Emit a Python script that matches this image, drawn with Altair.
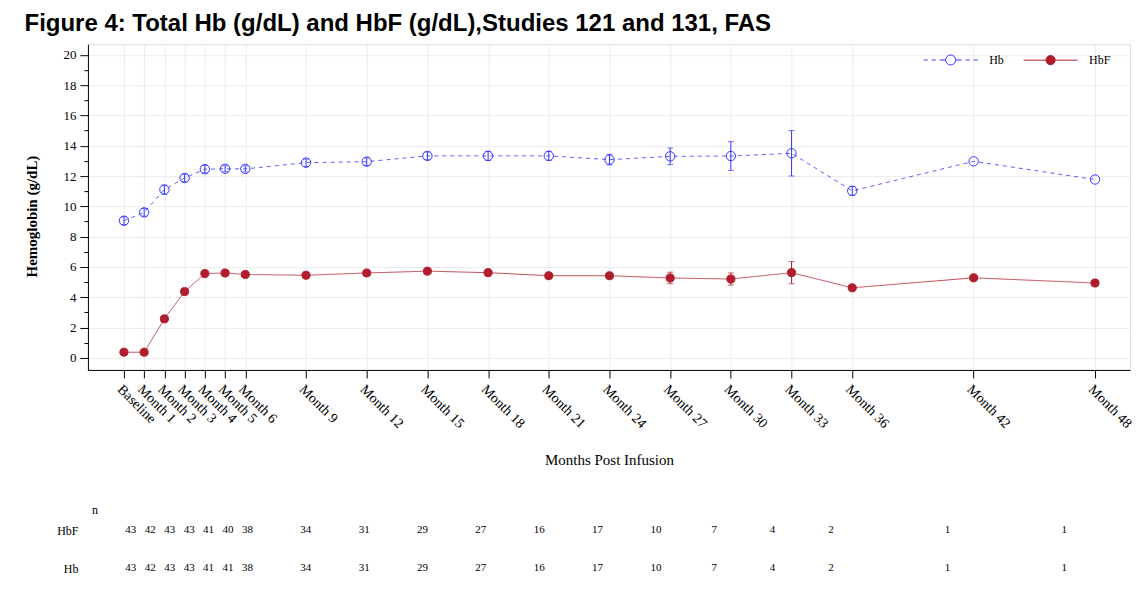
import altair as alt
import pandas as pd

# ---------------- data ----------------
months = [0, 1, 2, 3, 4, 5, 6, 9, 12, 15, 18, 21, 24, 27, 30, 33, 36, 42, 48]
month_labels = ["Baseline", "Month 1", "Month 2", "Month 3", "Month 4", "Month 5",
                "Month 6", "Month 9", "Month 12", "Month 15", "Month 18", "Month 21",
                "Month 24", "Month 27", "Month 30", "Month 33", "Month 36",
                "Month 42", "Month 48"]

hb_mean = [9.05, 9.6, 11.1, 11.87, 12.45, 12.48, 12.47, 12.88, 12.95, 13.33, 13.33,
           13.33, 13.08, 13.3, 13.32, 13.5, 11.02, 12.97, 11.77]
hb_err = [0.25, 0.25, 0.3, 0.25, 0.25, 0.2, 0.2, 0.25, 0.25, 0.25, 0.3, 0.3, 0.35,
          0.55, 0.95, 1.5, 0.3, 0.0, 0.0]
hbf_mean = [0.37, 0.37, 2.57, 4.37, 5.56, 5.6, 5.5, 5.45, 5.6, 5.72, 5.62, 5.42, 5.42,
            5.27, 5.2, 5.62, 4.62, 5.28, 4.94]
hbf_err = [0.1, 0.1, 0.15, 0.2, 0.15, 0.15, 0.15, 0.15, 0.15, 0.15, 0.15, 0.15, 0.15,
           0.38, 0.4, 0.73, 0.1, 0.0, 0.0]

n_hbf = [43, 42, 43, 43, 41, 40, 38, 34, 31, 29, 27, 16, 17, 10, 7, 4, 2, 1, 1]
n_hb = [43, 42, 43, 43, 41, 41, 38, 34, 31, 29, 27, 16, 17, 10, 7, 4, 2, 1, 1]

series_names = ["Hb", "HbF"]
series_colors = ["#3535ff", "#b01e2e"]

title_text = "Figure 4: Total Hb (g/dL) and HbF (g/dL),Studies 121 and 131, FAS"

# ---------------- tables ----------------
rows = []
for s, means, errs in (("Hb", hb_mean, hb_err), ("HbF", hbf_mean, hbf_err)):
    for m, v, e in zip(months, means, errs):
        rows.append({"series": s, "month": m, "val": v, "lo": v - e, "hi": v + e})
df = pd.DataFrame(rows)

trows = []
for r, ns in (("HbF", n_hbf), ("Hb", n_hb)):
    for m, n in zip(months, ns):
        trows.append({"row": r, "month": m, "n": n})
tdf = pd.DataFrame(trows)

label_map = "{" + ",".join(f"'{m}':'{l}'" for m, l in zip(months, month_labels)) + "}"

# ---------------- scales / axes ----------------
X_MIN, X_MAX = -1.78, 49.73
x_scale = alt.Scale(domain=[X_MIN, X_MAX], nice=False, zero=False)
y_scale = alt.Scale(domain=[-0.8, 20.7], nice=False, zero=False)
stroke_scale = alt.Scale(domain=series_names, range=series_colors)
fill_scale = alt.Scale(domain=series_names, range=["transparent", series_colors[1]])
# reversed-domain scales for channels that must not join the legend
rev_names = series_names[::-1]
color_rev = alt.Scale(domain=rev_names, range=series_colors[::-1])
dash_rev = alt.Scale(domain=rev_names, range=[[1, 0], [4, 4]])
size_rev = alt.Scale(domain=rev_names, range=[66, 88])

x_axis = alt.Axis(values=months, labelExpr=f"{label_map}[''+datum.value]",
                  labelAngle=45, labelAlign="left", labelBaseline="top",
                  labelOverlap=False, labelFontSize=14, labelPadding=4, tickSize=8,
                  grid=True, title="Months Post Infusion", titleFontSize=15,
                  titleFontWeight="normal", titleY=95, titleBaseline="alphabetic")
y_axis = alt.Axis(values=list(range(0, 21, 2)), labelFontSize=13, labelPadding=4,
                  tickSize=8, grid=True, titleFontSize=15, titleFontWeight="bold",
                  titleX=-48, titleY=172, titleBaseline="bottom")
Y_TITLE = "Hemoglobin (g/dL)"

x_enc = alt.X("month:Q", scale=x_scale, axis=x_axis, title="Months Post Infusion")


def y_of(field):
    return alt.Y(f"{field}:Q", scale=y_scale, axis=y_axis, title=Y_TITLE)


stroke_nl = alt.Stroke("series:N", scale=stroke_scale, legend=None)

# legend symbols: line + circle paths; symbol box 22 px, path unit = 11 px
SYM_BOX = 22
U = SYM_BOX / 2


def seg(a, b):
    return f"M{a / U:.3f},0H{b / U:.3f}"


def circ(r):
    r = r / U
    return f"M{-r:.3f},0A{r:.3f},{r:.3f} 0 1,0 {r:.3f},0A{r:.3f},{r:.3f} 0 1,0 {-r:.3f},0"


hb_sym = "".join(seg(a, b) for a, b in [(-27, -23), (-19, -15), (-11, -5.5),
                                         (5.5, 11), (15, 19), (23, 27)]) + circ(5.0)
hbf_sym = seg(-27, -4.6) + seg(4.6, 27) + circ(4.6)

legend = alt.Legend(title=None, orient="none", legendX=852, legendY=4,
                    direction="horizontal", labelFontSize=12, labelFont="Liberation Serif",
                    labelColor="black", labelOffset=27, columnPadding=17,
                    symbolSize=SYM_BOX * SYM_BOX, symbolStrokeWidth=1)

base = alt.Chart(df)

legend_layer = base.transform_filter("false").mark_point(
    filled=True, opacity=1, strokeWidth=1, size=SYM_BOX * SYM_BOX).encode(
    x=x_enc, y=y_of("val"),
    stroke=alt.Stroke("series:N", scale=stroke_scale, legend=legend),
    fill=alt.Fill("series:N", scale=fill_scale, legend=legend),
    shape=alt.Shape("series:N", scale=alt.Scale(domain=series_names, range=[hb_sym, hbf_sym]),
                    legend=legend),
)

line = base.mark_line(strokeWidth=1, strokeOpacity=0.8).encode(
    x=x_enc, y=y_of("val"),
    stroke=stroke_nl,
    strokeDash=alt.StrokeDash("series:N", scale=dash_rev, legend=None),
)

err_src = base.transform_filter("datum.hi > datum.lo")
err_rule = err_src.mark_rule(strokeWidth=1).encode(
    x=x_enc, y=y_of("lo"), y2="hi:Q", stroke=stroke_nl)
cap_lo = err_src.mark_tick(orient="horizontal", size=6, thickness=1).encode(
    x=x_enc, y=y_of("lo"), color=alt.Color("series:N", scale=color_rev, legend=None))
cap_hi = err_src.mark_tick(orient="horizontal", size=6, thickness=1).encode(
    x=x_enc, y=y_of("hi"), color=alt.Color("series:N", scale=color_rev, legend=None))

points = base.mark_point(filled=True, opacity=1, strokeWidth=1).encode(
    x=x_enc, y=y_of("val"),
    stroke=stroke_nl,
    fill=alt.Fill("series:N", scale=fill_scale, legend=None),
    size=alt.Size("series:N", scale=size_rev, legend=None),
)

main = alt.layer(legend_layer, line, err_rule, cap_lo, cap_hi, points)

minor = base.mark_point(opacity=0, size=1).encode(
    x=x_enc,
    y=alt.Y("val:Q", scale=y_scale, title=None,
            axis=alt.Axis(orient="left", values=list(range(1, 21, 2)), labels=False,
                          tickSize=4, domain=False, grid=False, title=None)),
)

top = alt.layer(main, minor).resolve_scale(y="independent").properties(
    width=1043, height=326, view=alt.ViewBackground(stroke="#dddddd"))

table = alt.Chart(tdf).mark_text(font="Liberation Serif", fontSize=11, color="black").encode(
    x=alt.X("month:Q", scale=alt.Scale(domain=[-2.205, 51.38], nice=False, zero=False),
            axis=None),
    y=alt.Y("row:N", scale=alt.Scale(domain=["HbF", "Hb"], padding=0.2),
            axis=alt.Axis(title="n", titleAngle=0, titleX=6.5, titleY=-13.4,
                          titleAlign="center", titleBaseline="middle",
                          titleFontWeight="normal", titleFontSize=12,
                          labelFontSize=12, labelPadding=10, ticks=False,
                          domain=False, grid=False)),
    text="n:Q",
).properties(width=1043, height=53)

chart = alt.vconcat(top, table, spacing=34).properties(
    title=alt.TitleParams(title_text, anchor="start", offset=8),
    padding={"left": 16, "top": 3, "right": 0, "bottom": 0},
).configure(font="Liberation Serif").configure_axis(
    labelFont="Liberation Serif", titleFont="Liberation Serif",
    labelColor="black", titleColor="black", domainColor="black",
    tickColor="black", gridColor="#ececec",
).configure_title(
    font="Liberation Sans", fontSize=24, fontWeight="bold", color="black",
).configure_view(stroke=None)

chart.save("out.html", embed_options={"renderer": "svg", "actions": False})
